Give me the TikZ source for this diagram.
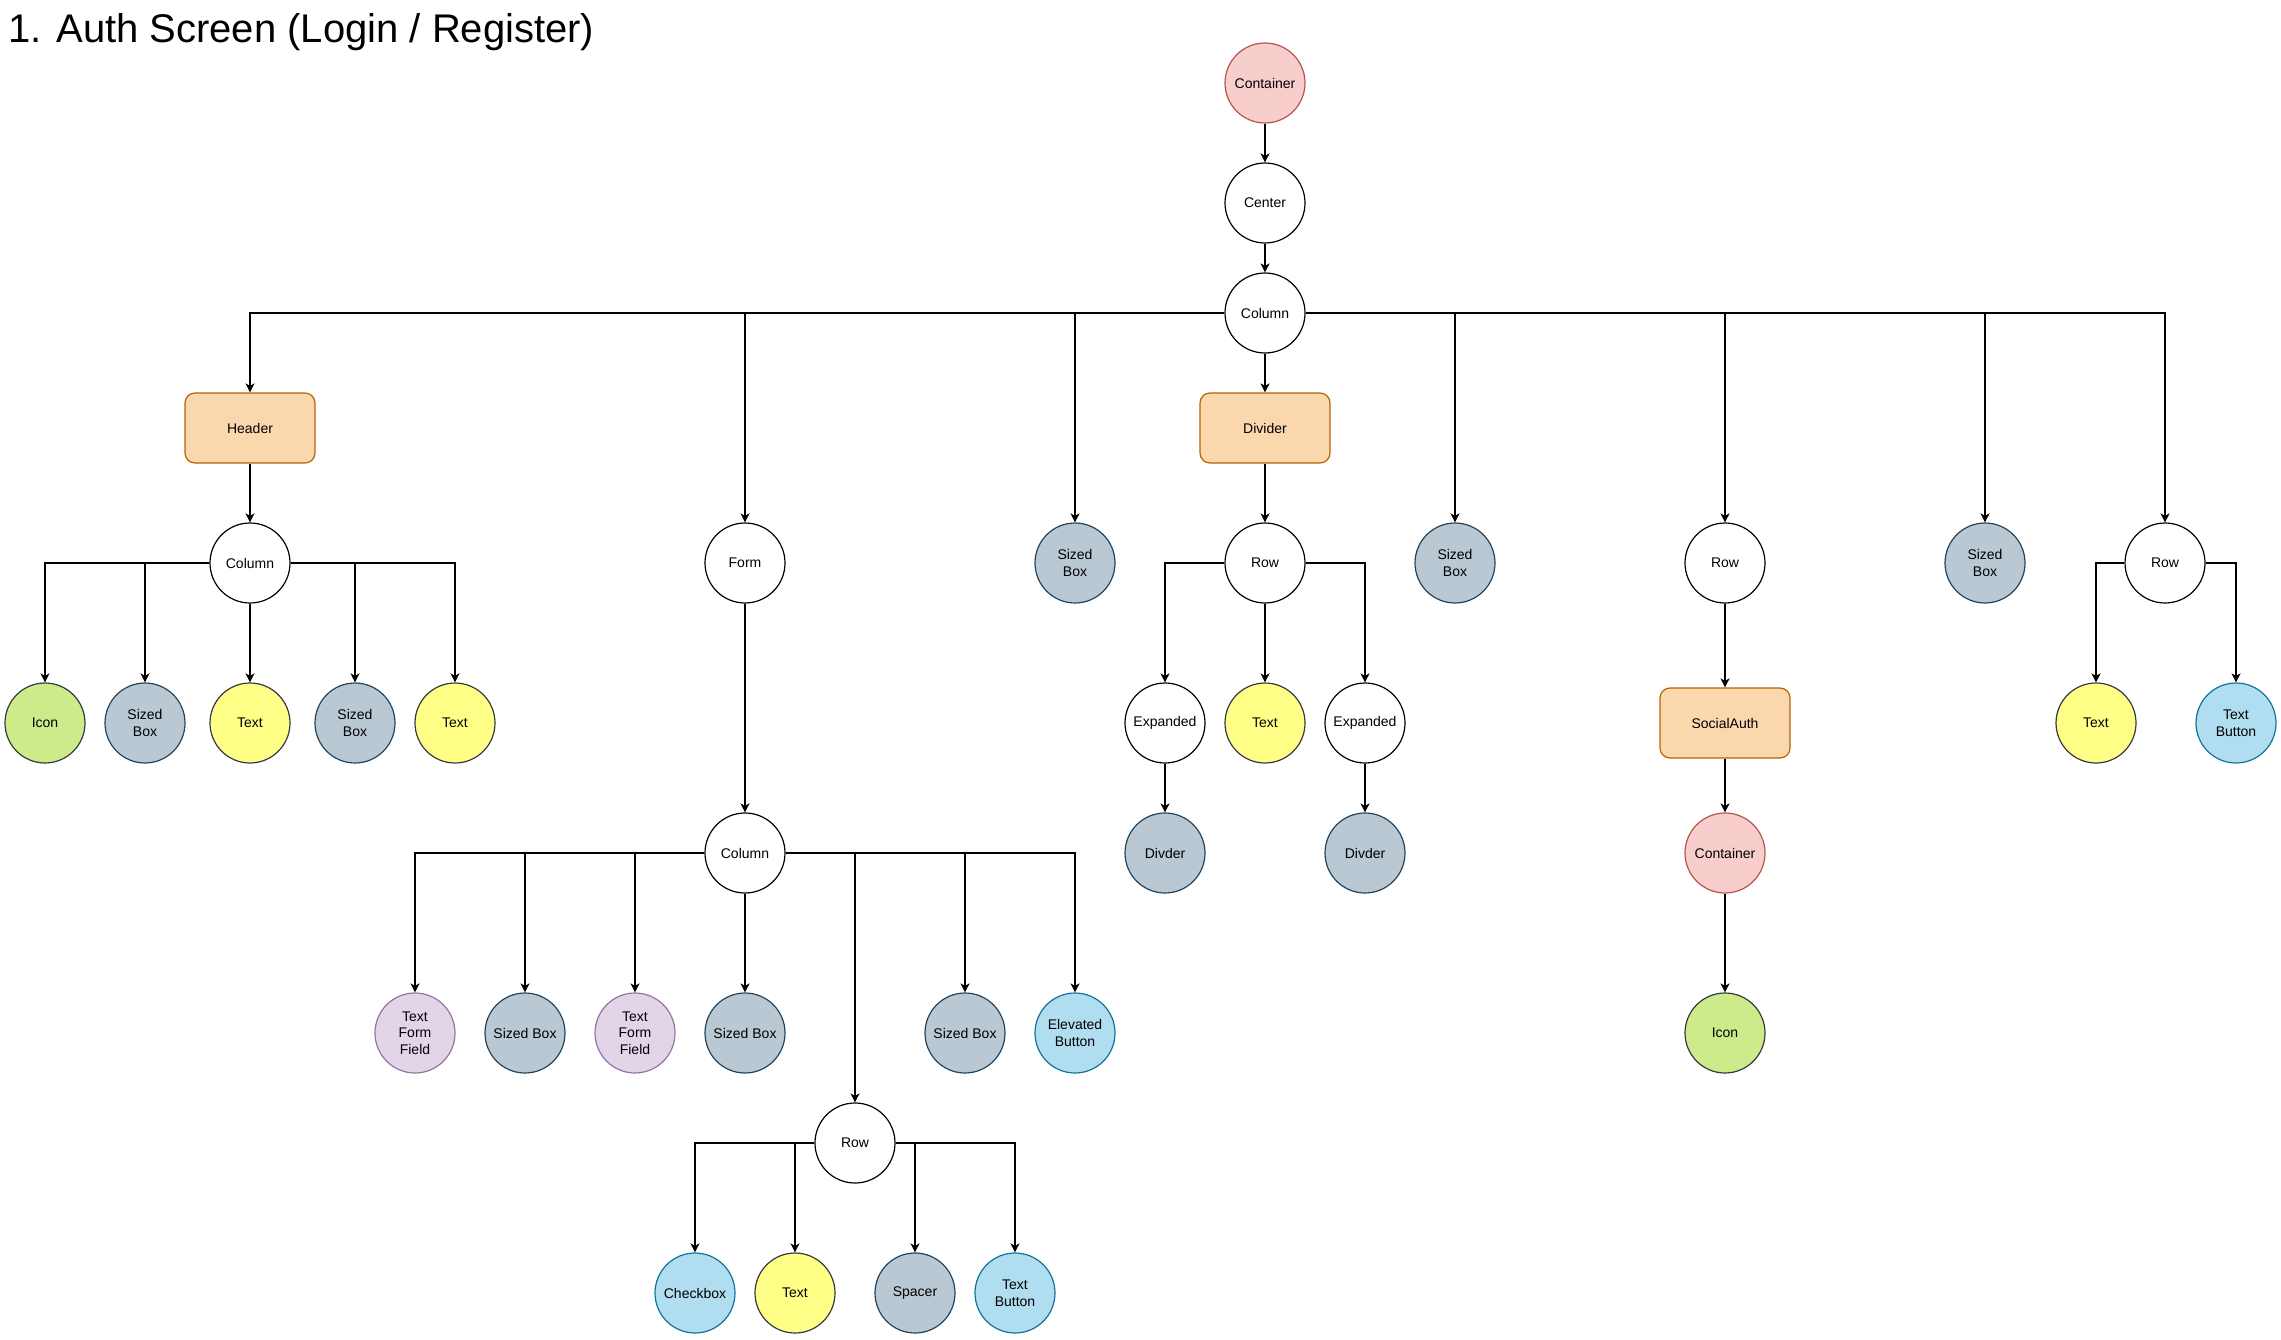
\documentclass[tikz,border=0pt]{standalone}
\usepackage{fontspec}
\setmainfont{Liberation Sans}
\usepackage{tikz}
\usetikzlibrary{arrows.meta}

\definecolor{pinkfill}{HTML}{F8CECC}
\definecolor{pinkline}{HTML}{B85450}
\definecolor{greyfill}{HTML}{BAC8D3}
\definecolor{greyline}{HTML}{23445D}
\definecolor{yellowfill}{HTML}{FFFF88}
\definecolor{greenfill}{HTML}{CDEB8B}
\definecolor{darkline}{HTML}{36393D}
\definecolor{purplefill}{HTML}{E1D5E7}
\definecolor{purpleline}{HTML}{9673A6}
\definecolor{bluefill}{HTML}{B1DDF0}
\definecolor{blueline}{HTML}{10739E}
\definecolor{orangefill}{HTML}{FAD7AC}
\definecolor{orangeline}{HTML}{B46504}

\tikzset{
  widget/.style={circle,draw=black,fill=white,line width=1.2pt,
    minimum size=80pt,inner sep=0pt,align=center,
    font=\fontsize{14}{16.7}\selectfont},
  container/.style={widget,fill=pinkfill,draw=pinkline},
  sized/.style={widget,fill=greyfill,draw=greyline},
  label/.style={widget,fill=yellowfill,draw=darkline},
  icon/.style={widget,fill=greenfill,draw=darkline},
  field/.style={widget,fill=purplefill,draw=purpleline},
  button/.style={widget,fill=bluefill,draw=blueline},
  part/.style={widget,rectangle,rounded corners=10pt,fill=orangefill,
    draw=orangeline,minimum width=130pt,minimum height=70pt},
  elbow/.style={to path={-| (\tikztotarget)}}
}

\begin{document}
\begin{tikzpicture}[x=1pt,y=-1pt]
\useasboundingbox (0,0) rectangle (2281,1340);

\node[anchor=base west,inner sep=0pt,font=\fontsize{40}{48}\selectfont]
  (title) at (8,43) {1. Auth Screen (Login / Register)};

% screen
\node[container] (root) at (1265,83) {Container};
\node[widget] (center) at (1265,203) {Center};
\node[widget] (col) at (1265,313) {Column};

% header
\node[part] (header) at (250,428) {Header};
\node[widget] (hcol) at (250,563) {Column};
\node[icon] (hicon) at (45,723) {Icon};
\node[sized] (hbox1) at (145,723) {Sized\\Box};
\node[label] (htext1) at (250,723) {Text};
\node[sized] (hbox2) at (355,723) {Sized\\Box};
\node[label] (htext2) at (455,723) {Text};

% form
\node[widget] (form) at (745,563) {Form};
\node[widget] (fcol) at (745,853) {Column};
\node[field] (ffield1) at (415,1033) {Text\\Form\\Field};
\node[sized] (fbox1) at (525,1033) {Sized Box};
\node[field] (ffield2) at (635,1033) {Text\\Form\\Field};
\node[sized] (fbox2) at (745,1033) {Sized Box};
\node[sized] (fbox3) at (965,1033) {Sized Box};
\node[button] (fbutton) at (1075,1033) {Elevated\\Button};
\node[widget] (frow) at (855,1143) {Row};
\node[button] (fcheck) at (695,1293) {Checkbox};
\node[label] (ftext) at (795,1293) {Text};
\node[sized] (fspacer) at (915,1293) {Spacer};
\node[button] (flink) at (1015,1293) {Text\\Button};

\node[sized] (gap1) at (1075,563) {Sized\\Box};

% divider
\node[part] (divider) at (1265,428) {Divider};
\node[widget] (drow) at (1265,563) {Row};
\node[widget] (dexp1) at (1165,723) {Expanded};
\node[label] (dtext) at (1265,723) {Text};
\node[widget] (dexp2) at (1365,723) {Expanded};
\node[sized] (dline1) at (1165,853) {Divder};
\node[sized] (dline2) at (1365,853) {Divder};

\node[sized] (gap2) at (1455,563) {Sized\\Box};

% social login
\node[widget] (srow) at (1725,563) {Row};
\node[part] (social) at (1725,723) {SocialAuth};
\node[container] (scont) at (1725,853) {Container};
\node[icon] (sicon) at (1725,1033) {Icon};

\node[sized] (gap3) at (1985,563) {Sized\\Box};

% switch login / register
\node[widget] (brow) at (2165,563) {Row};
\node[label] (btext) at (2096,723) {Text};
\node[button] (bbutton) at (2236,723) {Text\\Button};

\begin{scope}[>={Stealth[length=9pt,width=9pt,inset=2.5pt]},
              every edge/.style={draw=black,line width=1.5pt}]
    \path [->] (root) edge (center);
    \path [->] (center) edge (col);
    \path [->] (col) edge[elbow] (header);
    \path [->] (col) edge[elbow] (form);
    \path [->] (col) edge[elbow] (gap1);
    \path [->] (col) edge (divider);
    \path [->] (col) edge[elbow] (gap2);
    \path [->] (col) edge[elbow] (srow);
    \path [->] (col) edge[elbow] (gap3);
    \path [->] (col) edge[elbow] (brow);

    \path [->] (header) edge (hcol);
    \path [->] (hcol) edge[elbow] (hicon);
    \path [->] (hcol) edge[elbow] (hbox1);
    \path [->] (hcol) edge (htext1);
    \path [->] (hcol) edge[elbow] (hbox2);
    \path [->] (hcol) edge[elbow] (htext2);

    \path [->] (form) edge (fcol);
    \path [->] (fcol) edge[elbow] (ffield1);
    \path [->] (fcol) edge[elbow] (fbox1);
    \path [->] (fcol) edge[elbow] (ffield2);
    \path [->] (fcol) edge (fbox2);
    \path [->] (fcol) edge[elbow] (frow);
    \path [->] (fcol) edge[elbow] (fbox3);
    \path [->] (fcol) edge[elbow] (fbutton);
    \path [->] (frow) edge[elbow] (fcheck);
    \path [->] (frow) edge[elbow] (ftext);
    \path [->] (frow) edge[elbow] (fspacer);
    \path [->] (frow) edge[elbow] (flink);

    \path [->] (divider) edge (drow);
    \path [->] (drow) edge[elbow] (dexp1);
    \path [->] (drow) edge (dtext);
    \path [->] (drow) edge[elbow] (dexp2);
    \path [->] (dexp1) edge (dline1);
    \path [->] (dexp2) edge (dline2);

    \path [->] (srow) edge (social);
    \path [->] (social) edge (scont);
    \path [->] (scont) edge (sicon);

    \path [->] (brow) edge[elbow] (btext);
    \path [->] (brow) edge[elbow] (bbutton);
\end{scope}
\end{tikzpicture}
\end{document}
